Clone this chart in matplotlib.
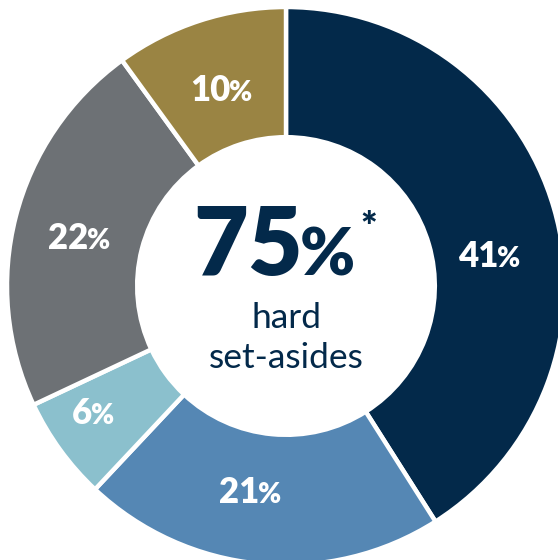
import numpy as np
import matplotlib.pyplot as plt

# share of awards by set-aside type, clockwise from 12 o'clock
shares = [41, 21, 6, 22, 10]
share_labels = ["41", "21", "6", "22", "10"]
colors = ["#03294a", "#5587b4", "#8bc0cd", "#6d7175", "#9a8443"]
headline = "75"
caption = "hard\nset-asides"

# label placement tweaks (degrees off the wedge middle, radius)
label_nudge = [-7.5, -4.5, -3, 1, 0]
label_radius = [0.745, 0.748, 0.83, 0.764, 0.75]

FONT = ["Lato", "DejaVu Sans"]
NAVY = "#03294a"
PX = 277.0  # pixels per data unit (outer radius)

fig = plt.figure(figsize=(5.58, 5.6), dpi=100)
ax = fig.add_axes([0, 0, 1, 1])

wedges, _ = ax.pie(
    shares,
    colors=colors,
    startangle=90,
    counterclock=False,
    radius=1 + 2 / PX,
    wedgeprops=dict(width=0.47, edgecolor="white", linewidth=3.2),
)
ax.set_xlim(-286 / PX, 272 / PX)
ax.set_ylim(-274 / PX, 286 / PX)
ax.set_aspect("equal")
ax.axis("off")

renderer = fig.canvas.get_renderer()


def pct_text(x, y, num, size, ratio, color):
    """Number with a smaller % sign, visually centred on (x, y)."""
    t1 = ax.text(0, 0, num, fontsize=size, fontweight="heavy", family=FONT,
                 color=color, ha="left", va="baseline")
    t2 = ax.text(0, 0, "%", fontsize=size * ratio, fontweight="heavy",
                 family=FONT, color=color, ha="left", va="baseline")
    w1 = t1.get_window_extent(renderer).width / PX
    w2 = t2.get_window_extent(renderer).width / PX
    cap = 0.72 * size * fig.dpi / 72 / PX
    left = x - (w1 + w2) / 2
    base = y - cap / 2
    t1.set_position((left, base))
    t2.set_position((left + w1 * 0.97, base))
    return left + w1 + w2, base, cap


for w, lab, nudge, rad in zip(wedges, share_labels, label_nudge, label_radius):
    mid = np.deg2rad((w.theta1 + w.theta2) / 2 + nudge)
    pct_text(rad * np.cos(mid), rad * np.sin(mid), lab, 25, 0.8, "white")

# centre headline
right, base, cap = pct_text(-10 / PX, 45 / PX, headline, 68, 0.7, NAVY)
ax.text(right + 10 / PX, base + 46 / PX, "*", fontsize=28, fontweight="heavy",
        family=FONT, color=NAVY, ha="center", va="center")

ax.text(0, -52 / PX, caption, fontsize=25.5, family=FONT, color=NAVY,
        ha="center", va="center", linespacing=1.28)

fig.savefig("out.png", dpi=100)
